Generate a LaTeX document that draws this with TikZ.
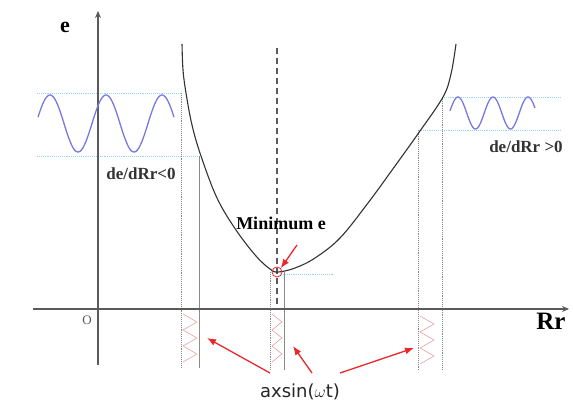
\documentclass[tikz,border=0pt]{standalone}
\usepackage{fontspec}
\setmainfont{Liberation Serif}
\newfontfamily\labsans{DejaVu Sans}
\usetikzlibrary{arrows.meta}
\definecolor{axgray}{HTML}{5A5A5A}
\definecolor{vgray}{HTML}{8A8A8A}
\definecolor{wavecol}{HTML}{7A78E0}
\definecolor{cyanline}{HTML}{9AD6EE}
\definecolor{redarrow}{HTML}{E8282A}
\definecolor{hatchcol}{HTML}{E9A0A8}
\tikzset{
  axisline/.style={axgray, line width=1.4pt, -{Stealth[length=7pt,width=6pt]}},
  vline/.style={vgray, line width=0.9pt},
  vdot/.style={vgray, line width=0.9pt, densely dotted},
  guide/.style={cyanline, line width=0.9pt, densely dotted},
  wave/.style={wavecol, line width=1.3pt},
  hatch/.style={hatchcol, line width=0.6pt},
  redarr/.style={redarrow, line width=1.3pt, -{Latex[length=9pt,width=7pt]}},
  curve/.style={black!80, line width=1.1pt},
  boldlab/.style={font=\bfseries, inner sep=0pt, anchor=base},
}
\begin{document}
\begin{tikzpicture}[x=1pt,y=-1pt]
\useasboundingbox (0,0) rectangle (573,403);
\fill[white] (0,0) rectangle (573,403);
% guide lines (cyan dotted)
\coordinate (L1a) at (37,93);  \coordinate (L1b) at (183,93);
\coordinate (L2a) at (37,156); \coordinate (L2b) at (200,156);
\draw[guide] (L1a) -- (L1b);
\draw[guide] (L2a) -- (L2b);
\coordinate (R1a) at (442,97);  \coordinate (R1b) at (560,97);
\coordinate (R2a) at (419,130); \coordinate (R2b) at (560,130);
\draw[guide] (R1a) -- (R1b);
\draw[guide] (R2a) -- (R2b);
\coordinate (M1a) at (283,274); \coordinate (M1b) at (333,274);
\draw[guide] (M1a) -- (M1b);
% vertical projection lines
\coordinate (va1) at (181,93);  \coordinate (vb1) at (181,368);
\coordinate (va2) at (199,156); \coordinate (vb2) at (199,368);
\coordinate (va3) at (270,272); \coordinate (vb3) at (270,370);
\coordinate (va4) at (284,272); \coordinate (vb4) at (284,370);
\coordinate (va5) at (418,130); \coordinate (vb5) at (418,370);
\coordinate (va6) at (442,97);  \coordinate (vb6) at (442,370);
\draw[vdot] (va1) -- (vb1);
\draw[vline] (va2) -- (vb2);
\draw[vdot] (va3) -- (vb3);
\draw[vline] (va4) -- (vb4);
\draw[vdot] (va5) -- (vb5);
\draw[vdot] (va6) -- (vb6);
% dashed centre line
\coordinate (dtop) at (277,48); \coordinate (dbot) at (277,310);
\draw[axgray, line width=1.6pt, dash pattern=on 6pt off 4pt] (dtop) -- (dbot);
% axes
\coordinate (xs) at (33,309); \coordinate (xe) at (569,309);
\coordinate (ys) at (98,365); \coordinate (ye) at (98,11);
\draw[axisline] (xs) -- (xe);
\draw[axisline] (ys) -- (ye);
% hatching below axis
\draw[hatch] (183,314) -- (197,322) -- (183,330) -- (197,338) -- (183,346) -- (197,354) -- (183,362);
\draw[hatch] (272,314) -- (282,322) -- (272,330) -- (282,338) -- (272,346) -- (282,354) -- (272,362);
\draw[hatch] (420,316) -- (434,324) -- (420,332) -- (434,340) -- (420,348) -- (434,356) -- (420,364);
% curve
\draw[curve] plot[smooth, tension=0.6] coordinates {(182,44) (183,70) (186,93) (192,125) (201,156) (217,198) (236,230) (256,256) (270,269) (278,272) (295,268) (315,258) (340,238) (368,203) (395,166) (420,131) (443,97) (451,74) (456,44)};
% waves
\draw[wave, domain=38:174, samples=120, smooth] plot (\x, {123.5 - 28.5*sin(6.428571*(\x-36))});
\draw[wave, domain=450:535, samples=90, smooth] plot (\x, {113 - 16*sin(10.285714*(\x-449.25))});
% minimum marker
\node[draw=redarrow, circle, minimum size=10pt, inner sep=0pt, line width=0.8pt] (minc) at (277,272) {};
\coordinate (mintail) at (297,245);
\draw[redarr] (mintail) -- (minc.north east);
% labels
\node[boldlab, font=\bfseries\fontsize{22}{22}\selectfont] (elab) at (65,33) {e};
\node[boldlab, font=\fontsize{13}{13}\selectfont, text=axgray] (olab) at (87,325) {O};
\node[boldlab, font=\bfseries\fontsize{25}{25}\selectfont] (rrlab) at (551,330) {Rr};
\node[boldlab, font=\bfseries\fontsize{17}{17}\selectfont, text=black!80] (dneg) at (141,180) {de/dRr<0};
\node[boldlab, font=\bfseries\fontsize{17}{17}\selectfont, text=black!80] (dpos) at (526,153) {de/dRr >0};
\node[boldlab, font=\bfseries\fontsize{18}{18}\selectfont] (minlab) at (281,230) {Minimum e};
\node[inner sep=0pt, anchor=base, font=\labsans\fontsize{18}{18}\selectfont, text=black!85] (axlab) at (300,397) {axsin(\(\omega\)t)};
% red arrows from label
\coordinate (t1) at (270,373); \coordinate (h1) at (207,338);
\coordinate (t2) at (312,373); \coordinate (h2) at (293,346);
\coordinate (t3) at (340,373); \coordinate (h3) at (414,348);
\draw[redarr] (t1) -- (h1);
\draw[redarr] (t2) -- (h2);
\draw[redarr] (t3) -- (h3);
\end{tikzpicture}
\end{document}
